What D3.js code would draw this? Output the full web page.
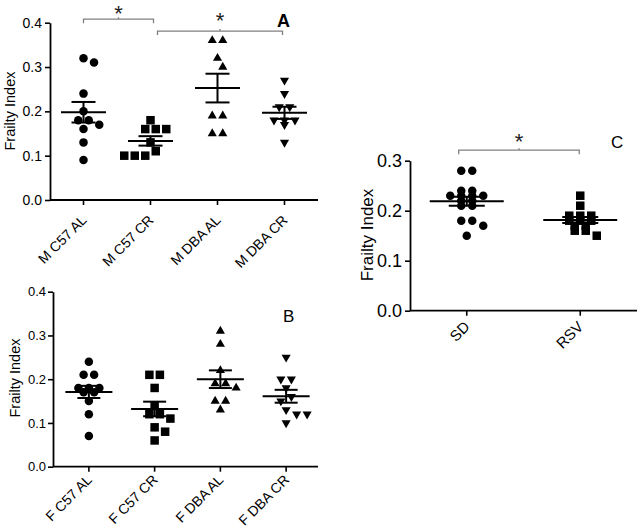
<!DOCTYPE html>
<html><head><meta charset="utf-8">
<script src="https://cdn.jsdelivr.net/npm/d3@7"></script>
<style>
html,body{margin:0;padding:0;background:#fff;}
svg{display:block;font-family:Arial,"Liberation Sans",sans-serif;}
</style></head>
<body>
<svg id="chart" width="640" height="532"></svg>
<script>
// ---------- DATA ----------
const catsA = ["M C57 AL", "M C57 CR", "M DBA AL", "M DBA CR"];
const mC57AL = [0.32, 0.31, 0.24, 0.20, 0.18, 0.18, 0.17, 0.16, 0.13, 0.09];
const mC57CR = [0.18, 0.16, 0.16, 0.16, 0.13, 0.11, 0.10, 0.10, 0.10];
const mDBAAL = [0.36, 0.36, 0.32, 0.30, 0.19, 0.19, 0.15, 0.15];
const mDBACR = [0.27, 0.24, 0.21, 0.21, 0.18, 0.18, 0.18, 0.17, 0.13];

const catsB = ["F C57 AL", "F C57 CR", "F DBA AL", "F DBA CR"];
const fC57AL = [0.24, 0.21, 0.21, 0.18, 0.18, 0.18, 0.17, 0.17, 0.15, 0.12, 0.07];
const fC57CR = [0.21, 0.21, 0.18, 0.14, 0.12, 0.12, 0.11, 0.09, 0.08, 0.06];
const fDBAAL = [0.31, 0.28, 0.22, 0.19, 0.19, 0.18, 0.15, 0.15, 0.13];
const fDBACR = [0.25, 0.20, 0.20, 0.18, 0.16, 0.15, 0.13, 0.12, 0.12, 0.10];

const catsC = ["SD", "RSV"];
const sdVals = [0.28, 0.28, 0.24, 0.24, 0.23, 0.23, 0.23, 0.23, 0.22, 0.22, 0.21, 0.21, 0.18, 0.18, 0.17, 0.15];
const rsvVals = [0.23, 0.21, 0.19, 0.19, 0.19, 0.18, 0.18, 0.18, 0.17, 0.17, 0.16, 0.16, 0.15];

const ticksAB = [0, 0.1, 0.2, 0.3, 0.4];
const ticksC = [0, 0.1, 0.2, 0.3];
const yTitle = "Frailty Index";

// ---------- HELPERS ----------
const svg = d3.select("#chart");
const shapes = ["circle", "square", "up", "down"];

function swarm(vals, y, D, S) {
  const rows = d3.groups(vals, v => v).sort((a, b) => b[0] - a[0]);
  const placed = [], out = [];
  for (const [v, arr] of rows) {
    const n = arr.length, py = y(v);
    let best = null;
    outer:
    for (const gap of [1, 1.2, 1.45]) {
      for (const s of [0, 0.5, -0.5, 1, -1, 1.5, -1.5]) {
        const xs = d3.range(n).map(i => (i - (n - 1) / 2) * S * gap + s * S);
        if (xs.every(x => placed.every(p => Math.hypot(p.x - x, p.y - py) >= D * 1.05))) { best = xs; break outer; }
      }
    }
    if (!best) best = d3.range(n).map(i => (i - (n - 1) / 2) * S);
    best.forEach(x => { placed.push({x, y: py}); out.push({v, dx: x}); });
  }
  return out;
}

function drawMarker(g, shape, x, y, s) {
  if (shape === "circle") {
    g.append("circle").attr("cx", x).attr("cy", y).attr("r", s / 2).attr("fill", "#000");
  } else if (shape === "square") {
    g.append("rect").attr("x", x - s / 2).attr("y", y - s / 2).attr("width", s).attr("height", s).attr("fill", "#000");
  } else {
    const sym = d3.symbol().type(d3.symbolTriangle).size(s * s * 0.5)();
    g.append("path").attr("d", sym)
      .attr("transform", `translate(${x},${y})` + (shape === "down" ? " rotate(180)" : ""))
      .attr("fill", "#000");
  }
}

function panel(cfg) {
  const g = svg.append("g");
  const y = d3.scaleLinear().domain([0, cfg.ymax]).range([cfg.y0, cfg.y1]);
  const x = d3.scaleBand().domain(cfg.cats).range([cfg.bx0, cfg.bx1]).padding(0);
  const cx = c => x(c) + x.bandwidth() / 2;

  // points
  cfg.series.forEach((vals, i) => {
    const c = cfg.cats[i];
    swarm(vals, y, cfg.D, cfg.S).forEach(p => drawMarker(g, cfg.shapes[i], cx(c) + p.dx, y(p.v), cfg.D));
  });

  // mean + SEM
  cfg.series.forEach((vals, i) => {
    const c = cfg.cats[i];
    const m = d3.mean(vals), sem = d3.deviation(vals) / Math.sqrt(vals.length);
    const X = cx(c);
    const lg = g.append("g").attr("stroke", "#000").attr("stroke-width", 2);
    lg.append("line").attr("x1", X - cfg.mw / 2).attr("x2", X + cfg.mw / 2).attr("y1", y(m)).attr("y2", y(m));
    lg.append("line").attr("x1", X).attr("x2", X).attr("y1", y(m - sem)).attr("y2", y(m + sem));
    [m - sem, m + sem].forEach(v => lg.append("line").attr("x1", X - cfg.cw / 2).attr("x2", X + cfg.cw / 2).attr("y1", y(v)).attr("y2", y(v)));
  });

  // y axis
  const ya = g.append("g").attr("transform", `translate(${cfg.ax},0)`)
    .call(d3.axisLeft(y).tickValues(cfg.ticks).tickFormat(d3.format(".1f")).tickSize(5).tickSizeOuter(0).tickPadding(cfg.tp));
  ya.selectAll("text").attr("font-size", cfg.tfs).attr("fill", "#000").attr("font-family", "Arial, 'Liberation Sans', sans-serif");
  ya.selectAll("line").attr("stroke", "#000").attr("stroke-width", 1.6);
  ya.select(".domain").attr("stroke", "#000").attr("stroke-width", 1.8);

  // x axis
  const xa = g.append("g").attr("transform", `translate(0,${cfg.y0})`)
    .call(d3.axisBottom(x).tickSize(5).tickSizeOuter(0));
  xa.select(".domain").remove();
  xa.selectAll("line").attr("stroke", "#000").attr("stroke-width", 1.6);
  xa.selectAll("text").remove();
  g.append("line").attr("x1", cfg.ax).attr("x2", cfg.xend).attr("y1", cfg.y0).attr("y2", cfg.y0)
    .attr("stroke", "#000").attr("stroke-width", 1.8);
  cfg.cats.forEach(c => {
    const ax = cx(c) + 4, ay = cfg.y0 + cfg.ldy;
    svg.append("text").attr("text-anchor", "end").attr("font-size", cfg.lfs)
      .style("transform", `translate(${ax}px,${ay}px) rotate(-45deg)`).text(c);
  });

  // y title
  g.append("text").attr("transform", `translate(${cfg.tx},${cfg.ty}) rotate(-90)`)
    .attr("text-anchor", "middle").attr("dominant-baseline", "central")
    .attr("font-size", cfg.yfs).text(yTitle);

  // panel letter
  g.append("text").attr("x", cfg.letter[1]).attr("y", cfg.letter[2]).attr("font-size", cfg.letter[3])
    .attr("font-weight", cfg.letter[4]).text(cfg.letter[0]);

  // significance brackets
  (cfg.brackets || []).forEach(b => {
    const x1 = cx(cfg.cats[b.a]) + b.o1, x2 = cx(cfg.cats[b.b]) + b.o2, by = y(b.v), mid = (x1 + x2) / 2;
    g.append("path").attr("d", `M${x1},${by + 4}V${by}H${x2}V${by + 4}M${mid},${by}V${by - 2}`)
      .attr("fill", "none").attr("stroke", "#808080").attr("stroke-width", 1.3);
    g.append("text").attr("x", mid).attr("y", by - b.sy).attr("text-anchor", "middle")
      .attr("font-size", 22).attr("fill", "#222").text("*");
  });
  return g;
}

// ---------- PANELS ----------
panel({
  cats: catsA, series: [mC57AL, mC57CR, mDBAAL, mDBACR], shapes,
  ymax: 0.4, y0: 200, y1: 22.7, bx0: 50, bx1: 318, ax: 50, xend: 318,
  ticks: ticksAB, tfs: 14, tp: 3, lfs: 14, ldy: 21, yfs: 14.5, tx: 10, ty: 111,
  D: 8.5, S: 10.5, mw: 45, cw: 24,
  letter: ["A", 277, 27, 18, "bold"],
  brackets: [{a: 0, b: 1, o1: 0, o2: 3, v: 0.408, sy: -2}, {a: 1, b: 3, o1: 7, o2: -2, v: 0.381, sy: 3}]
});

panel({
  cats: catsB, series: [fC57AL, fC57CR, fDBAAL, fDBACR], shapes,
  ymax: 0.4, y0: 466.7, y1: 291.7, bx0: 56, bx1: 319, ax: 53, xend: 318,
  ticks: ticksAB, tfs: 13, tp: 2, lfs: 14, ldy: 14, yfs: 14.5, tx: 15, ty: 378,
  D: 8.5, S: 10.5, mw: 47, cw: 23,
  letter: ["B", 283, 322, 17, "normal"]
});

panel({
  cats: catsC, series: [sdVals, rsvVals], shapes: ["circle", "square"],
  ymax: 0.3, y0: 310.7, y1: 160.7, bx0: 410, bx1: 637, ax: 410, xend: 637,
  ticks: ticksC, tfs: 18, tp: 3, lfs: 15, ldy: 17, yfs: 17, tx: 367, ty: 235,
  D: 8.5, S: 11, mw: 74, cw: 36,
  letter: ["C", 611, 148, 17, "normal"],
  brackets: [{a: 0, b: 1, o1: -8, o2: -1, v: 0.321, sy: 1}]
});
</script>
</body></html>
